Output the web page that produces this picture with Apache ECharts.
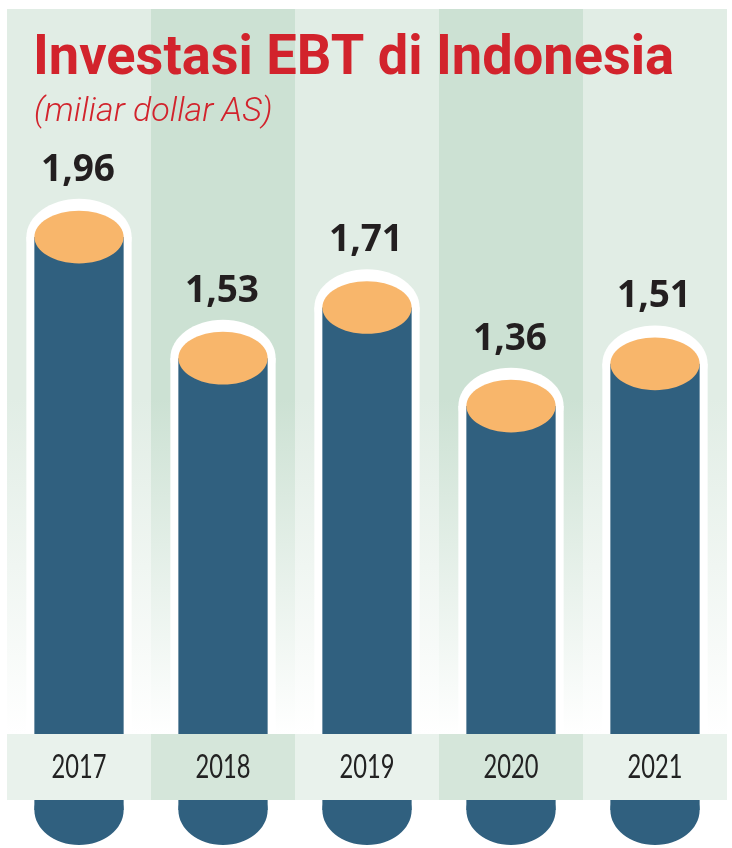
<!DOCTYPE html>
<html>
<head>
<meta charset="utf-8">
<script src="https://cdn.jsdelivr.net/npm/echarts@6/dist/echarts.min.js"></script>
<style>
html,body{margin:0;padding:0;background:#ffffff;}
#chart{width:732px;height:848px;}
</style>
</head>
<body>
<div id="chart"></div>
<script>
const categories = ['2017', '2018', '2019', '2020', '2021'];
const values = [1.96, 1.53, 1.71, 1.36, 1.51];
const titleText = 'Investasi EBT di Indonesia';
const subtitleText = '(miliar dollar AS)';

const chart = echarts.init(document.getElementById('chart'), null, {renderer: 'canvas'});

function colGrad(c) {
  return new echarts.graphic.LinearGradient(0, 0, 0, 1, [
    {offset: 0, color: c},
    {offset: 0.5, color: c},
    {offset: 0.93, color: '#ffffff'},
    {offset: 1, color: '#ffffff'}
  ]);
}

const option = {
  backgroundColor: '#ffffff',
  animation: false,
  graphic: [
    {type: 'text', x: 33, y: 60, scaleX: 0.985, z: 20,
      style: {text: titleText, font: 'bold 55px Roboto', fill: '#d2232c', verticalAlign: 'middle', align: 'left'}},
    {type: 'text', x: 34, y: 112, scaleX: 1.0, z: 20,
      style: {text: subtitleText, font: 'italic 300 34px Roboto', fill: '#d2232c', verticalAlign: 'middle', align: 'left'}}
  ],
  grid: {left: 7, right: 5, top: 9, bottom: 59},
  xAxis: {
    type: 'category',
    data: categories,
    axisLine: {show: false},
    axisTick: {show: false},
    axisLabel: {show: false},
    splitArea: {
      show: true,
      interval: 0,
      areaStyle: {color: [colGrad('#e1ede5'), colGrad('#cce1d3')]}
    }
  },
  yAxis: {
    type: 'value',
    min: 0,
    max: 2.77,
    show: false,
    splitLine: {show: false}
  },
  series: [{
    type: 'custom',
    z: 2,
    data: values.map((v, i) => [i, v]),
    renderItem: function (params, api) {
      const i = api.value(0), v = api.value(1);
      const top = api.coord([i, v]);
      const base = api.coord([i, 0]);
      const bw = api.size([1, 0])[0];
      const rx = bw * 0.31;
      const ry = rx * 0.59;
      const cx = top[0];
      const bottomC = base[1] + 21;
      const haloRx = rx + 8, haloRy = ry + 12;
      return {
        type: 'group',
        children: [
          {type: 'rect', shape: {x: cx - haloRx, y: top[1], width: haloRx * 2, height: base[1] - top[1]}, style: {fill: '#ffffff'}},
          {type: 'ellipse', shape: {cx: cx, cy: top[1], rx: haloRx, ry: haloRy}, style: {fill: '#ffffff'}},
          {type: 'rect', shape: {x: cx - rx, y: top[1], width: rx * 2, height: bottomC - top[1]}, style: {fill: '#30607f'}},
          {type: 'ellipse', shape: {cx: cx, cy: bottomC, rx: rx, ry: 35}, style: {fill: '#30607f'}},
          {type: 'ellipse', shape: {cx: cx, cy: top[1], rx: rx, ry: ry}, style: {fill: '#f8b66b'}},
          {type: 'text', x: cx - 1, y: top[1] - 67, style: {
            x: 0, y: 0,
            text: v.toFixed(2).replace('.', ','),
            align: 'center', verticalAlign: 'middle',
            font: 'bold 37px "Open Sans"', fill: '#231f20'
          }}
        ]
      };
    }
  }, {
    type: 'custom',
    z: 5,
    data: categories.map((c, i) => [i, 0]),
    renderItem: function (params, api) {
      const i = api.value(0);
      const base = api.coord([i, 0]);
      const bw = api.size([1, 0])[0];
      const idx = params.dataIndex;
      return {
        type: 'group',
        children: [
          {type: 'rect', shape: {x: base[0] - bw / 2, y: base[1] - 55, width: bw, height: 66},
            style: {fill: idx % 2 ? '#d5e6da' : '#e9f2ec'}},
          {type: 'text', x: base[0], y: base[1] - 21, scaleX: 0.74, style: {
            x: 0, y: 0, text: categories[idx], align: 'center', verticalAlign: 'middle',
            font: '400 32px Lato', fill: '#222222'
          }}
        ]
      };
    }
  }]
};
chart.setOption(option);
</script>
</body>
</html>
